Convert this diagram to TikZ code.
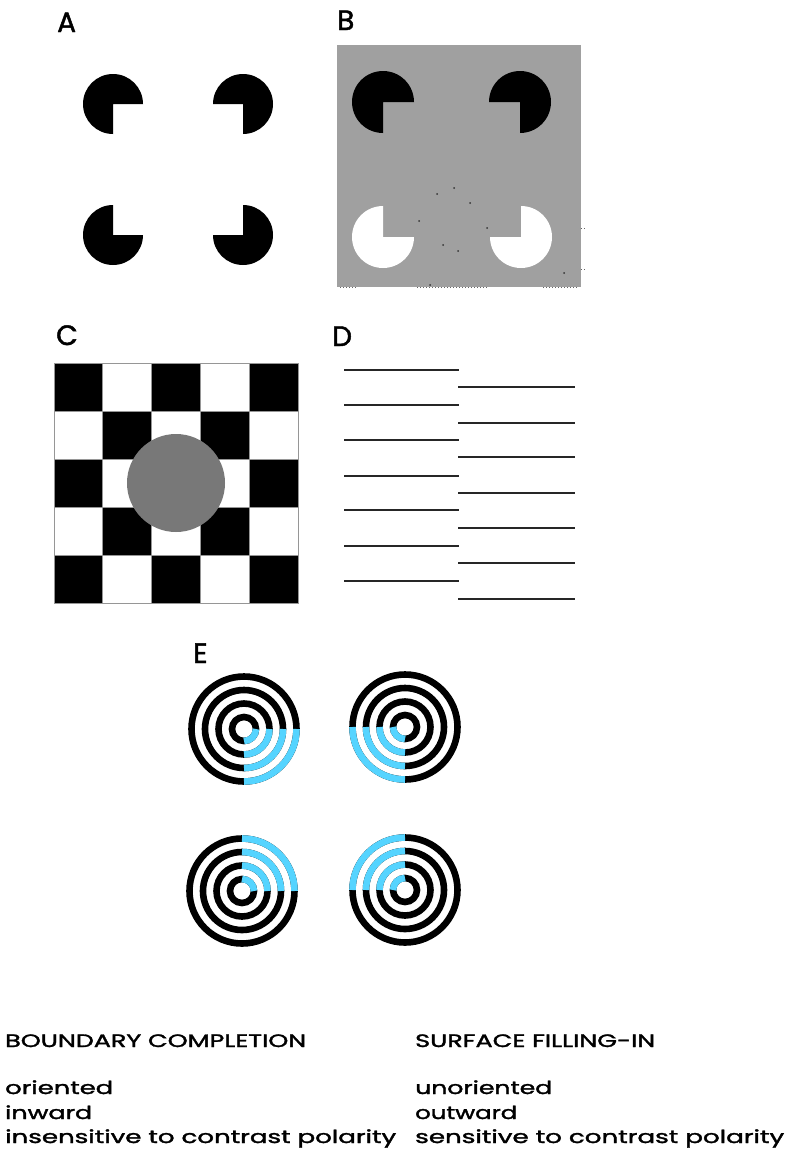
\documentclass[tikz,border=0pt]{standalone}
\usepackage{fontspec}
\setmainfont{Poppins}
\newfontfamily\heavy{Poppins}[FakeBold=1.6]
\usepackage{graphicx}
\definecolor{bgray}{RGB}{160,160,160}
\definecolor{ecyan}{RGB}{85,212,255}
\definecolor{dgray}{RGB}{120,120,120}
\definecolor{seam}{RGB}{150,150,150}
\newcommand\fitw[2]{\resizebox{#1}{\height}{#2}}
\begin{document}
\begin{tikzpicture}[x=1pt,y=1pt,
  lbl/.style={anchor=base west, inner sep=0, font=\heavy\fontsize{28}{30}\selectfont},
  txt/.style={anchor=base west, inner sep=0, font=\heavy\fontsize{18}{20}\selectfont},
  dline/.style={line width=2pt, color=black!85},
  ring/.style={line width=6.6pt, black},
  bring/.style={line width=6.6pt, ecyan},
  speck/.style={fill=black!80},
  tick/.style={draw=black!60, line width=0.7pt, dash pattern=on 1pt off 2pt},
]
\useasboundingbox (0,0) rectangle (788,-1151);
\fill[white] (0,0) rectangle (788,-1151);

% ---------- labels
\node[lbl] (la) at (57,-32) {A};
\node[lbl] (lb) at (337,-30) {B};
\node[lbl] (lc) at (56,-345) {C};
\node[lbl] (ld) at (332,-346) {D};
\node[lbl] (le) at (193,-663) {E};

% ---------- panel A
\foreach \x/\y/\s in {113/104/0, 243/104/-90, 113/235/90, 243/235/180}
  \fill (\x,-\y) -- ++(\s:30) arc[start angle=\s, delta angle=270, radius=30] -- cycle;

% ---------- panel B
\fill[bgray] (337,-45) rectangle (581,-287);
\foreach \x/\y/\s/\c in {383/102/0/black, 520/102/-90/black, 383/237/90/white, 521/237/180/white}
  \fill[\c] (\x,-\y) -- ++(\s:31) arc[start angle=\s, delta angle=270, radius=31] -- cycle;
\foreach \x/\y in {454/188, 437/194, 470/203, 419/221, 487/228, 443/245, 458/251, 564/273, 430/285}
  \fill[speck] (\x,-\y) circle (1);
\draw[tick] (340,-287.5) -- (357,-287.5);
\draw[tick] (417,-287.5) -- (488,-287.5);
\draw[tick] (543,-287.5) -- (577,-287.5);
\draw[tick] (581,-228) -- (585,-228);
\draw[tick] (581,-269) -- (585,-269);

% ---------- panel C
\fill[white] (54,-363) rectangle (298,-603);
\foreach \i in {0,...,4}{
  \foreach \j in {0,...,4}{
    \pgfmathtruncatemacro\p{mod(\i+\j,2)}
    \ifnum\p=0
      \fill (54+48.8*\i,-363-48*\j) rectangle ++(48.8,-48);
    \fi
  }
}
\foreach \i in {1,...,4}{
  \draw[seam, line width=0.7pt] (54+48.8*\i,-363) -- ++(0,-240);
  \draw[seam, line width=0.7pt] (54,-363-48*\i) -- ++(244,0);
}
\draw[seam, line width=0.8pt] (54,-363) rectangle (298,-603);
\fill[dgray] (176,-483) circle (49);

% ---------- panel D
\foreach \y in {370,404.5,440,475.5,510,546,581}
  \draw[dline] (344,-\y) -- (459,-\y);
\foreach \y in {387,422.5,457,493,528,563,599}
  \draw[dline] (458,-\y) -- (575,-\y);

% ---------- panel E
\foreach \cx/\cy/\a in {244/729/-90, 405/727/180, 242/891/0, 405/890/90}{
  \foreach \r in {12,25.5,39,52.5}{
    \draw[ring] (\cx,-\cy) circle (\r);
    \draw[bring] (\cx,-\cy) ++(\a:\r) arc[start angle=\a, delta angle=90, radius=\r];
  }
}

% ---------- text
\node[txt] (h1) at (5,-1047) {\fitw{301pt}{BOUNDARY COMPLETION}};
\node[txt] (h2) at (415,-1047) {\fitw{240pt}{SURFACE FILLING-IN}};
\node[txt] (l1) at (5,-1094) {\fitw{108pt}{oriented}};
\node[txt] (l2) at (5,-1119) {\fitw{87pt}{inward}};
\node[txt] (l3) at (5,-1143) {\fitw{391pt}{insensitive to contrast polarity}};
\node[txt] (r1) at (415,-1094) {\fitw{137pt}{unoriented}};
\node[txt] (r2) at (415,-1119) {\fitw{102pt}{outward}};
\node[txt] (r3) at (415,-1143) {\fitw{369pt}{sensitive to contrast polarity}};
\end{tikzpicture}
\end{document}
